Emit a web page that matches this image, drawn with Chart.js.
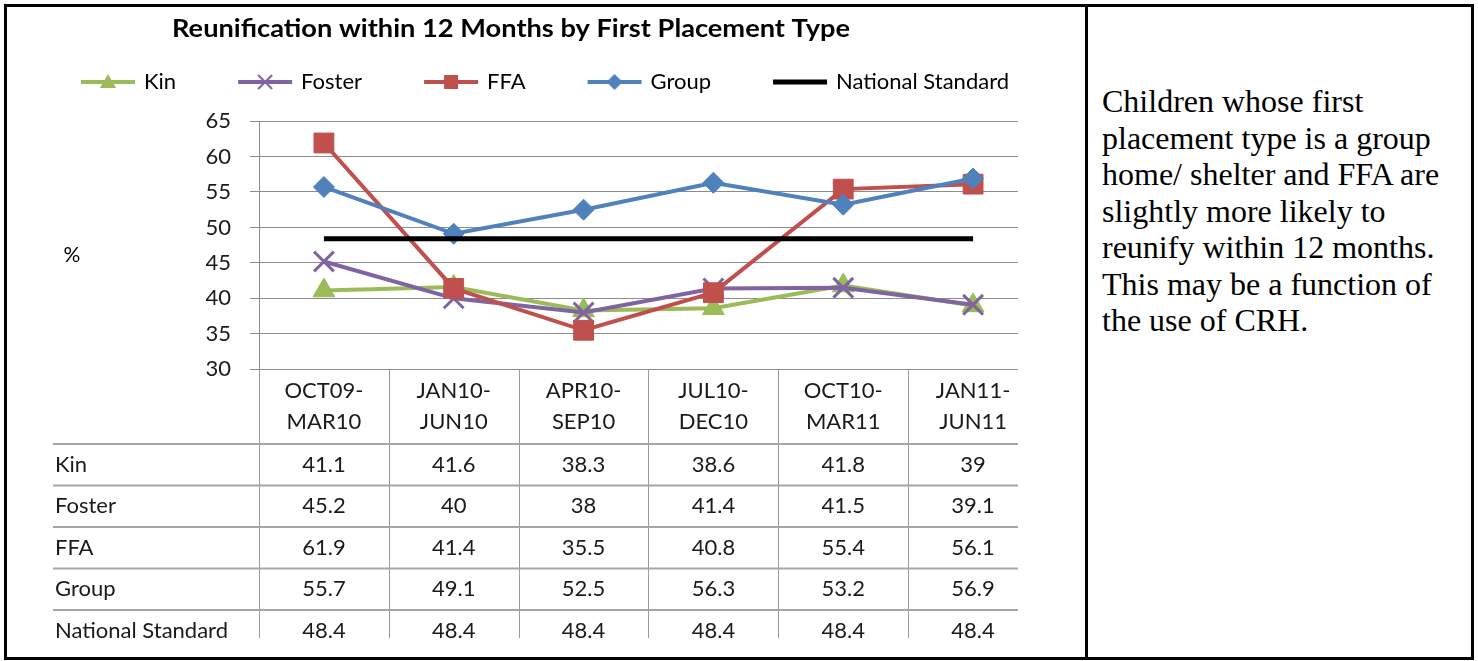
<!DOCTYPE html>
<html><head><meta charset="utf-8">
<script src="https://cdn.jsdelivr.net/npm/chart.js@4.4.1/dist/chart.umd.min.js"></script>
<style>
html,body{margin:0;padding:0;background:#fff;}
body{width:1478px;height:661px;position:relative;overflow:hidden;}
#frame{position:absolute;left:4px;top:4px;width:1470px;height:656px;box-sizing:border-box;border:3px solid #000;}
#divider{position:absolute;left:1085px;top:4px;width:3px;height:656px;background:#000;}
#wrap{position:absolute;left:7px;top:7px;width:1078px;height:631px;overflow:hidden;}
#note{position:absolute;left:1102px;top:83px;font-family:'Liberation Serif','Times New Roman',serif;font-size:32px;line-height:36.5px;color:#000;white-space:nowrap;}
</style></head><body>
<div id="frame"></div><div id="divider"></div>
<div id="wrap"><canvas id="c" width="1078" height="631" style="width:1078px;height:631px;"></canvas></div>
<div id="note">Children whose first<br>placement type is a group<br>home/ shelter and FFA are<br>slightly more likely to<br>reunify within 12 months.<br>This may be a function of<br>the use of CRH.</div>
<script>
const chartTitle = 'Reunification within 12 Months by First Placement Type';
const yAxisLabel = '%';
const categories = [['OCT09-','MAR10'],['JAN10-','JUN10'],['APR10-','SEP10'],['JUL10-','DEC10'],['OCT10-','MAR11'],['JAN11-','JUN11']];
const seriesNames = ['Kin','Foster','FFA','Group','National Standard'];
const kin = [41.1, 41.6, 38.3, 38.6, 41.8, 39];
const foster = [45.2, 40, 38, 41.4, 41.5, 39.1];
const ffa = [61.9, 41.4, 35.5, 40.8, 55.4, 56.1];
const group = [55.7, 49.1, 52.5, 56.3, 53.2, 56.9];
const nationalStandard = [48.4, 48.4, 48.4, 48.4, 48.4, 48.4];
const yMin = 30, yMax = 65, yStep = 5;

const seriesValues = [kin, foster, ffa, group, nationalStandard];
const colors = ['#9BBB59', '#8064A2', '#C0504D', '#4F81BD', '#000000'];
const markers = ['triangle', 'crossRot', 'rect', 'rectRot', 'none'];
const radii = [12.5, 14, 14, 10.5, 0];
const markerBorder = [1, 3, 1, 1, 0];
const lineWidths = [4, 4, 4, 4, 5];
const orders = [4, 3, 2, 1, 0];

function makeIcon(color, style, lw) {
  const c = document.createElement('canvas');
  c.width = 60; c.height = 24;
  const g = c.getContext('2d');
  g.strokeStyle = color; g.fillStyle = color; g.lineWidth = lw;
  g.beginPath(); g.moveTo(3, 12); g.lineTo(57, 12); g.stroke();
  const cx = 30, cy = 12;
  g.beginPath();
  if (style === 'triangle') { g.moveTo(cx, cy - 8); g.lineTo(cx + 8, cy + 6); g.lineTo(cx - 8, cy + 6); g.closePath(); g.fill(); }
  else if (style === 'rect') { g.fillRect(cx - 7, cy - 7, 14, 14); }
  else if (style === 'rectRot') { g.moveTo(cx, cy - 8); g.lineTo(cx + 8, cy); g.lineTo(cx, cy + 8); g.lineTo(cx - 8, cy); g.closePath(); g.fill(); }
  else if (style === 'crossRot') { g.lineWidth = 2; g.moveTo(cx - 7, cy - 7); g.lineTo(cx + 7, cy + 7); g.moveTo(cx + 7, cy - 7); g.lineTo(cx - 7, cy + 7); g.stroke(); }
  return c;
}
const legendIcons = seriesNames.map((n, i) => makeIcon(colors[i], markers[i], lineWidths[i]));

const datasets = seriesNames.map((name, i) => ({
  label: name,
  data: seriesValues[i].map((v, j) => ({x: j, y: v})),
  borderColor: colors[i],
  backgroundColor: colors[i],
  borderWidth: lineWidths[i],
  pointStyle: markers[i] === 'none' ? 'circle' : markers[i],
  pointRadius: radii[i],
  pointHoverRadius: radii[i],
  pointBackgroundColor: colors[i],
  pointBorderColor: colors[i],
  pointBorderWidth: markerBorder[i],
  tension: 0,
  order: orders[i],
  clip: false
}));

const tableRowTop = 437, tableRowH = 41.5;
const decor = {
  id: 'decor',
  afterDraw(chart) {
    const {ctx, chartArea, scales} = chart;
    const x = scales.x;
    const H = chart.height;
    ctx.save();
    // title (stretched to the reference width)
    ctx.fillStyle = '#000';
    ctx.font = 'bold 24px Lato';
    ctx.textAlign = 'center'; ctx.textBaseline = 'middle';
    const tw = ctx.measureText(chartTitle).width;
    const sx = 678 / tw;
    ctx.save();
    ctx.translate(504, 22);
    ctx.scale(sx, 1);
    ctx.fillText(chartTitle, 0, 0);
    ctx.restore();
    // y axis label
    ctx.font = '21px Lato';
    ctx.fillText(yAxisLabel, 65, 248);
    // table vertical lines
    ctx.strokeStyle = '#999999'; ctx.lineWidth = 1;
    for (let i = 0; i < categories.length; i++) {
      const px = Math.round(x.getPixelForValue(i - 0.5)) + 0.5;
      ctx.beginPath(); ctx.moveTo(px, chartArea.bottom); ctx.lineTo(px, H); ctx.stroke();
    }
    // table horizontal lines
    ctx.strokeStyle = '#a6a6a6'; ctx.lineWidth = 2;
    for (let r = 0; r < seriesNames.length; r++) {
      const y = tableRowTop + r * tableRowH;
      ctx.beginPath(); ctx.moveTo(46, y); ctx.lineTo(chartArea.right, y); ctx.stroke();
    }
    // table text
    ctx.font = '22px Lato'; ctx.fillStyle = '#1a1a1a'; ctx.textBaseline = 'middle';
    for (let r = 0; r < seriesNames.length; r++) {
      const cy = tableRowTop + r * tableRowH + tableRowH / 2;
      ctx.textAlign = 'left';
      ctx.fillText(seriesNames[r], 48, cy);
      ctx.textAlign = 'center';
      seriesValues[r].forEach((v, j) => ctx.fillText(String(v), x.getPixelForValue(j), cy));
    }
    ctx.restore();
  }
};

new Chart(document.getElementById('c'), {
  type: 'line',
  data: {datasets},
  plugins: [decor],
  options: {
    responsive: false,
    animation: false,
    events: [],
    layout: {padding: {top: 0, left: 0, right: 0, bottom: 0}},
    plugins: {
      title: {display: false},
      subtitle: {display: true, text: '', weight: 500, font: {size: 1, lineHeight: 1}, padding: {top: 8, bottom: 9}},
      tooltip: {enabled: false},
      legend: {
        display: true, position: 'top', align: 'center',
        labels: {
          usePointStyle: true, pointStyleWidth: 50, padding: 64,
          font: {family: 'Lato', size: 22}, color: '#000',
          generateLabels: (chart) => chart.data.datasets.map((ds, i) => ({
            text: ds.label, pointStyle: legendIcons[i], datasetIndex: i, hidden: false,
            fillStyle: ds.borderColor, strokeStyle: ds.borderColor, lineWidth: 0, fontColor: '#000'
          }))
        }
      }
    },
    scales: {
      x: {
        type: 'linear', min: -0.5, max: 5.346,
        grid: {display: false, drawTicks: false},
        border: {display: false},
        afterBuildTicks: (s) => { s.ticks = categories.map((c, i) => ({value: i})); },
        afterFit: (s) => { s.height = 268.7; },
        ticks: {
          autoSkip: false, maxRotation: 0, minRotation: 0, padding: 6,
          font: {family: 'Lato', size: 22, lineHeight: 31 / 22}, color: '#1a1a1a',
          callback: (v) => categories[v] || ''
        }
      },
      y: {
        min: yMin, max: yMax,
        afterFit: (s) => { s.width = 252; },
        grid: {color: '#8c8c8c', lineWidth: 1, tickLength: 9, drawTicks: true},
        border: {display: true, color: '#8c8c8c', width: 1},
        ticks: {stepSize: yStep, autoSkip: false, padding: 19, font: {family: 'Lato', size: 22}, color: '#1a1a1a'}
      },
      yRight: {
        position: 'right', min: 0, max: 1,
        afterFit: (s) => { s.width = 67; },
        grid: {display: false, drawTicks: false},
        border: {display: false},
        ticks: {display: false}
      }
    }
  }
});
</script>
</body></html>
